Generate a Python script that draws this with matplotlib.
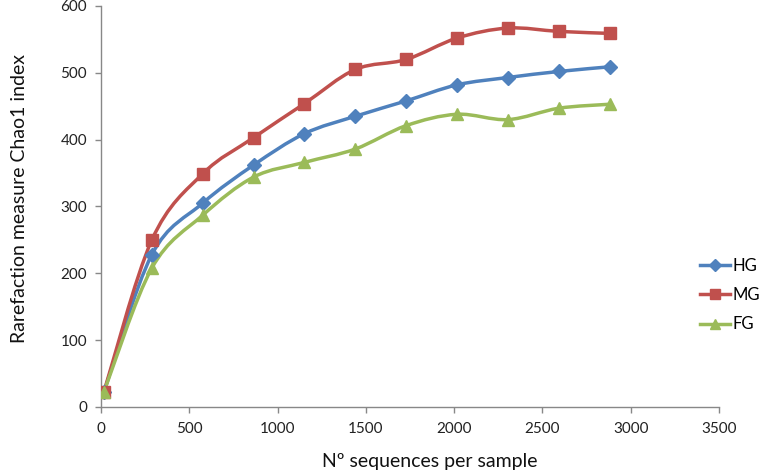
import numpy as np
import matplotlib.pyplot as plt
from matplotlib.path import Path
from matplotlib.patches import PathPatch
from matplotlib.lines import Line2D

plt.rcParams['font.family'] = ['Lato', 'DejaVu Sans']

seqs = [17, 288, 576, 864, 1152, 1440, 1728, 2016, 2304, 2592, 2880]
hg = [23, 228, 305, 362, 409, 435, 458, 482, 493, 502, 509]
mg = [23, 250, 349, 403, 454, 505, 520, 552, 567, 562, 559]
fg = [23, 208, 287, 344, 366, 386, 421, 438, 430, 447, 453]

series = [('HG', hg, '#4F81BD', 'D', 7.5),
          ('MG', mg, '#C0504D', 's', 8.5),
          ('FG', fg, '#9BBB59', '^', 8.5)]


def smooth_path(xs, ys, t=1 / 6):
    # Excel-like smoothed line: cubic bezier through the points
    xs = np.asarray(xs, float)
    ys = np.asarray(ys, float)
    n = len(xs)
    verts = [(xs[0], ys[0])]
    codes = [Path.MOVETO]
    for i in range(n - 1):
        p0 = (xs[max(i - 1, 0)], ys[max(i - 1, 0)])
        p1 = (xs[i], ys[i])
        p2 = (xs[i + 1], ys[i + 1])
        p3 = (xs[min(i + 2, n - 1)], ys[min(i + 2, n - 1)])
        c1 = (p1[0] + (p2[0] - p0[0]) * t, p1[1] + (p2[1] - p0[1]) * t)
        c2 = (p2[0] - (p3[0] - p1[0]) * t, p2[1] - (p3[1] - p1[1]) * t)
        verts += [c1, c2, p2]
        codes += [Path.CURVE4] * 3
    return Path(verts, codes)


fig = plt.figure(figsize=(7.63, 4.76), dpi=100)
ax = fig.add_axes([0.1324, 0.145, 0.81, 0.8424])

handles = []
for name, vals, col, mk, ms in series:
    ax.add_patch(PathPatch(smooth_path(seqs, vals), fill=False,
                           edgecolor=col, lw=2.5, zorder=2))
    ax.plot(seqs, vals, linestyle='none', marker=mk, ms=ms, color=col,
            zorder=3)
    handles.append(Line2D([], [], color=col, lw=2.5, marker=mk, ms=ms - 1,
                          label=name))

ax.set_xlim(0, 3500)
ax.set_ylim(0, 600)
ax.set_xticks(np.arange(0, 3501, 500))
ax.set_yticks(np.arange(0, 601, 100))

for s in ['top', 'right']:
    ax.spines[s].set_visible(False)
for s in ['left', 'bottom']:
    ax.spines[s].set_color('#888888')
    ax.spines[s].set_linewidth(1)
ax.tick_params(axis='both', colors='#888888', labelcolor='#222222',
               labelsize=11, length=4, width=1)
ax.tick_params(axis='x', pad=7)
ax.tick_params(axis='y', pad=6)

ax.set_xlabel('Nº sequences per sample', fontsize=14, color='#111111')
ax.xaxis.set_label_coords(0.532, -0.115)
ax.set_ylabel('Rarefaction measure Chao1 index', fontsize=14,
              color='#111111')
ax.yaxis.set_label_coords(-0.118, 0.52)

fig.legend(handles=handles, loc='center left', bbox_to_anchor=(0.918, 0.38),
           frameon=False, fontsize=12, handlelength=1.8, handletextpad=0.1,
           labelspacing=0.8, borderpad=0, borderaxespad=0)

fig.savefig('out.png', dpi=100)
